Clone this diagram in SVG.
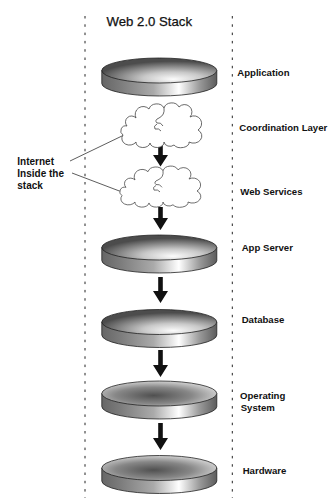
<svg xmlns="http://www.w3.org/2000/svg" xmlns:xlink="http://www.w3.org/1999/xlink" width="330" height="498" viewBox="0 0 330 498">
  <defs>
    <style>
      .title { font-family: "Liberation Sans", Arial, sans-serif; font-size: 13.2px; fill: #111; stroke: #111; stroke-width: 0.25; }
      .label { font-family: "Liberation Sans", Arial, sans-serif; font-size: 9.6px; font-weight: bold; fill: #111; }
      .note { font-family: "Liberation Sans", Arial, sans-serif; font-size: 10px; font-weight: bold; fill: #111; }
      .guide { stroke: #222; stroke-width: 1; stroke-dasharray: 2.5 5.8; fill: none; }
      .outline { stroke: #222; stroke-width: 0.8; }
      .side { fill: url(#sideShade); }
      .top-lit { fill: url(#topLit); }
      .top-dim { fill: url(#topDim); }
      .cloud { fill: #fff; stroke: #444; stroke-width: 0.8; }
      .cloud-inner { fill: none; stroke: #444; stroke-width: 0.8; }
      .arrow { fill: #111; }
      .callout { stroke: #333; stroke-width: 0.8; fill: none; }
    </style>
    <linearGradient id="sideShade" x1="0" y1="0" x2="1" y2="0">
      <stop offset="0" stop-color="#666"/>
      <stop offset="0.15" stop-color="#7a7a7a"/>
      <stop offset="0.45" stop-color="#aaa"/>
      <stop offset="0.67" stop-color="#fff"/>
      <stop offset="0.85" stop-color="#9a9a9a"/>
      <stop offset="1" stop-color="#5c5c5c"/>
    </linearGradient>
    <radialGradient id="topLit" cx="0.62" cy="0.78" r="0.65" fx="0.62" fy="0.85">
      <stop offset="0" stop-color="#fcfcfc"/>
      <stop offset="0.4" stop-color="#c8c8c8"/>
      <stop offset="1" stop-color="#4c4c4c"/>
    </radialGradient>
    <radialGradient id="topDim" cx="0.45" cy="0.58" r="0.6">
      <stop offset="0" stop-color="#505050"/>
      <stop offset="0.55" stop-color="#878787"/>
      <stop offset="1" stop-color="#d6d6d6"/>
    </radialGradient>
    <!-- disk parts, centred on the top face -->
    <path id="diskSide" d="M-57.5,0 V13 A57.5 12.5 0 0 0 57.5,13 V0 Z"/>
    <ellipse id="diskTop" cx="0" cy="0" rx="57.5" ry="12.5"/>
    <!-- cloud outline, local box about 78 x 42 -->
    <path id="cloudShape" d="M1,30 A5 5 0 0 1 5,21 A6 6 0 0 1 14,13 A8 8 0 0 1 27,4 A8 7 0 0 1 42,3 A8 7 0 0 1 57,2 A7 7 0 0 1 68,12 A7 7 0 0 1 76,25 A7 6 0 0 1 67,37 A8 5 0 0 1 52,40 A6 5 0 0 1 42,37 A7 5 0 0 1 28,38 A7 5 0 0 1 14,37 A7 6 0 0 1 1,30 Z"/>
    <path id="cloudFold" d="M42,3 Q43,10 37,13 Q32,15 35,18 Q39,17 41,21 M35,19 Q31,21 33,24 Q37,23 39,26"/>
  </defs>

  <!-- title and column guides -->
  <text class="title" x="106.5" y="25.5">Web 2.0 Stack</text>
  <line class="guide" x1="85" y1="16" x2="85" y2="498"/>
  <line class="guide" x1="232.3" y1="16" x2="232.3" y2="498"/>

  <!-- connectors -->
  <g id="connectors">
    <polygon class="arrow" points="158.2,143.5 162.8,143.5 162.8,155 168,155 160.5,166.5 153,155 158.2,155"/>
    <polygon class="arrow" points="158.2,207 162.8,207 162.8,218 168,218 160.5,230 153,218 158.2,218"/>
    <polygon class="arrow" points="158.2,277 162.8,277 162.8,291 168,291 160.5,303 153,291 158.2,291"/>
    <polygon class="arrow" points="158.2,350 162.8,350 162.8,365 168,365 160.5,377 153,365 158.2,365"/>
    <polygon class="arrow" points="158.2,423 162.8,423 162.8,438 168,438 160.5,450 153,438 158.2,438"/>
    <line class="callout" x1="70" y1="161" x2="123" y2="135.5"/>
    <line class="callout" x1="72" y1="173" x2="122" y2="192"/>
  </g>

  <g id="application">
    <g transform="translate(159.3,70.5)">
      <use xlink:href="#diskSide" class="side outline"/>
      <use xlink:href="#diskTop" class="top-lit outline"/>
    </g>
    <text class="label" x="237.3" y="75.5">Application</text>
  </g>

  <g id="coordination-layer">
    <g transform="translate(122,105)">
      <use xlink:href="#cloudShape" class="cloud"/>
      <use xlink:href="#cloudFold" class="cloud-inner"/>
    </g>
    <text class="label" x="239.3" y="130.5">Coordination Layer</text>
  </g>

  <g id="web-services">
    <g transform="translate(121,168) scale(1,0.92)">
      <use xlink:href="#cloudShape" class="cloud"/>
      <use xlink:href="#cloudFold" class="cloud-inner"/>
    </g>
    <text class="label" x="240.3" y="194.5">Web Services</text>
  </g>

  <g id="internet-note">
    <text class="note" x="17.3" y="164.5">Internet</text>
    <text class="note" x="17.3" y="177">Inside the</text>
    <text class="note" x="17.3" y="189">stack</text>
  </g>

  <g id="app-server">
    <g transform="translate(159.3,247.5)">
      <use xlink:href="#diskSide" class="side outline"/>
      <use xlink:href="#diskTop" class="top-lit outline"/>
    </g>
    <text class="label" x="241.7" y="250.5">App Server</text>
  </g>

  <g id="database">
    <g transform="translate(159.3,322)">
      <use xlink:href="#diskSide" class="side outline"/>
      <use xlink:href="#diskTop" class="top-lit outline"/>
    </g>
    <text class="label" x="241.7" y="323">Database</text>
  </g>

  <g id="operating-system">
    <g transform="translate(159.3,393.5)">
      <use xlink:href="#diskSide" class="side outline"/>
      <use xlink:href="#diskTop" class="top-dim outline"/>
    </g>
    <text class="label" x="240" y="399">Operating</text>
    <text class="label" x="240.7" y="410.5">System</text>
  </g>

  <g id="hardware">
    <g transform="translate(159.3,468)">
      <use xlink:href="#diskSide" class="side outline"/>
      <use xlink:href="#diskTop" class="top-dim outline"/>
    </g>
    <text class="label" x="242.7" y="473.5">Hardware</text>
  </g>
</svg>
